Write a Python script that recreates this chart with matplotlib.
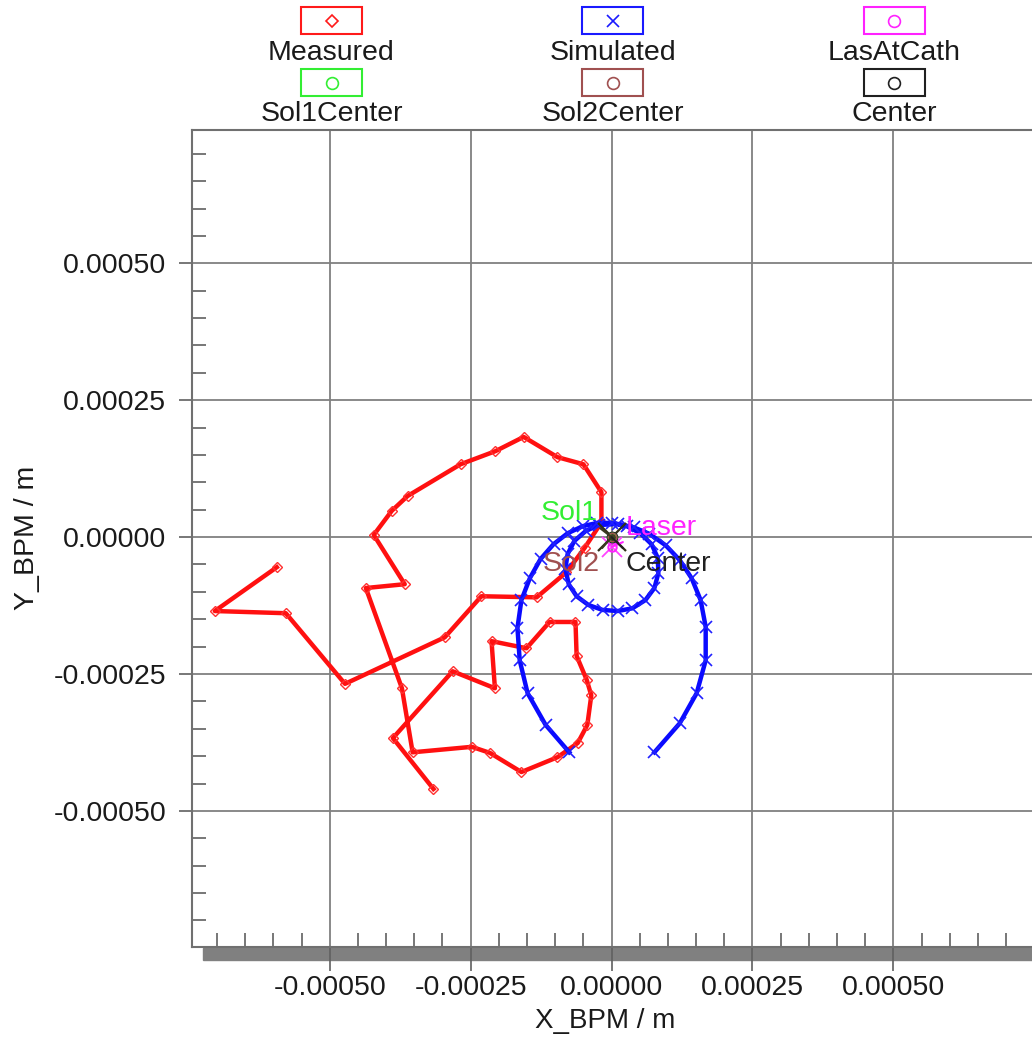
import numpy as np
import matplotlib.pyplot as plt
from matplotlib.lines import Line2D
from matplotlib.patches import Rectangle
from matplotlib.ticker import MultipleLocator, FormatStrFormatter

plt.rcParams['font.family'] = ['Liberation Sans', 'DejaVu Sans']

# beam positions at the BPM, in micrometres
meas_x_um = [-316, -388, -282, -207, -213, -151, -110, -64, -62, -44,
             -36, -43, -60, -96, -160, -216, -248, -353, -372, -436,
             -367, -422, -390, -362, -268, -206, -156, -96, -50, -18,
             -18, -48, -80, -133, -231, -296, -473, -578, -704, -594]
meas_y_um = [-460, -367, -245, -276, -190, -203, -155, -155, -217, -261,
             -289, -343, -376, -402, -429, -394, -383, -393, -276, -93,
             -86, 4, 48, 75, 133, 157, 183, 146, 133, 82,
             27, -20, -64, -110, -108, -183, -268, -139, -135, -55]

sim_x_um = [-75, -117, -149, -163, -167, -160, -145, -126, -103, -78,
            -51, -25,
            0, 27, 51, 71, 82, 83, 76, 60, 37, 11,
            -16, -41, -62, -76, -82, -78, -66, -46, -23,
            11, 39, 67, 96, 121, 142, 158, 167, 167, 151,
            121, 76]
sim_y_um = [-393, -343, -285, -225, -166, -115, -75, -40, -13, 7,
            20, 26,
            26, 20, 7, -13, -38, -66, -93, -115, -130, -135,
            -133, -124, -108, -86, -58, -31, -7, 11, 22,
            24, 18, 6, -15, -42, -75, -115, -164, -225, -285,
            -340, -393]

laser_um = (0, -18)
sol1_um = (0, 0)
sol2_um = (0, 0)
center_um = (0, 0)

legend_labels = ['Measured', 'Simulated', 'LasAtCath',
                 'Sol1Center', 'Sol2Center', 'Center']
legend_colors = ['#ff1a1a', '#1a1aff', '#ff22ff',
                 '#33ee33', '#a05050', '#202020']
legend_markers = ['D', 'x', 'o', 'o', 'o', 'o']

um = 1e-6
W, H = 1032, 1038
fig = plt.figure(figsize=(W / 100, H / 100), dpi=100)
ax = fig.add_axes([191.7 / W, 1 - 946.7 / H, (W - 191.7) / W, (946.7 - 129.7) / H])

ax.plot(np.array(meas_x_um) * um, np.array(meas_y_um) * um, color='#ff1010',
        lw=3.2, marker='D', ms=5.5, mfc='none', mec='#ff3030', mew=1.0,
        solid_joinstyle='round', zorder=3)
ax.plot(np.array(sim_x_um) * um, np.array(sim_y_um) * um, color='#0a0aff',
        lw=3.2, marker='x', ms=8, mec='#2020ff', mew=1.2,
        solid_joinstyle='round', zorder=4)

# laser spot and solenoid centres, with their cross-hairs
lx, ly = laser_um[0] * um, laser_um[1] * um
cx0, cy0 = center_um[0] * um, center_um[1] * um
ax.plot(lx, ly, 'x', ms=15, mec='#ff44ff', mew=1.3, zorder=5)
ax.plot(lx, ly, 'o', ms=6, mfc='none', mec='#ff22ff', mew=1.5, zorder=5)
ax.plot(cx0, cy0, 'x', ms=20, mec='#303018', mew=1.6, zorder=6)
ax.plot(cx0, cy0, 'o', ms=7, mfc='#404020', mec='#202020', mew=1.5, zorder=6)
ax.plot(sol1_um[0] * um, sol1_um[1] * um, 'o', ms=6, mfc='none', mec='#33ee33', mew=1.0, zorder=6)
ax.plot(sol2_um[0] * um, sol2_um[1] * um, 'o', ms=6, mfc='none', mec='#a05050', mew=1.0, zorder=6)

# point labels with leader lines
def tag(text, xy, xytext, color, lcolor, ha, va, rel):
    ax.annotate(text, xy=xy, xytext=xytext, color=color, fontsize=20.5,
                ha=ha, va=va, zorder=7,
                arrowprops=dict(arrowstyle='-', color=lcolor, lw=1.5,
                                shrinkA=0, shrinkB=0, relpos=rel))

tag('Sol1', (sol1_um[0] * um, sol1_um[1] * um), (-25 * um, 31 * um),
    '#33ee33', '#3a3a20', 'right', 'baseline', (1, 0))
tag('Laser', (lx, ly), (25 * um, 4 * um),
    '#ff22ff', '#ff22ff', 'left', 'baseline', (0, 0))
tag('Sol2', (sol2_um[0] * um, sol2_um[1] * um), (-21 * um, -25 * um),
    '#a05050', '#3a3a20', 'right', 'top', (1, 1))
tag('Center', (cx0, cy0), (25 * um, -25 * um),
    '#202020', '#202020', 'left', 'top', (0, 1))

ax.set_xlim(-745 * um, 746 * um)
ax.set_ylim(-748 * um, 744 * um)

ax.xaxis.set_major_locator(MultipleLocator(0.00025))
ax.yaxis.set_major_locator(MultipleLocator(0.00025))
ax.xaxis.set_minor_locator(MultipleLocator(0.00005))
ax.yaxis.set_minor_locator(MultipleLocator(0.00005))
ax.xaxis.set_major_formatter(FormatStrFormatter('%.5f'))
ax.yaxis.set_major_formatter(FormatStrFormatter('%.5f'))

ax.grid(True, which='major', color='#808080', lw=1.3)
ax.set_axisbelow(True)
for side in ['left', 'top', 'bottom']:
    ax.spines[side].set_color('#707070')
    ax.spines[side].set_linewidth(1.5)
ax.spines['right'].set_visible(False)

ax.tick_params(axis='x', which='major', direction='out', length=17, width=1.2,
               color='#606060', pad=3.5, labelsize=20.5, labelcolor='#1a1a1a')
ax.tick_params(axis='y', which='major', direction='out', length=9.5, width=1.2,
               color='#606060', pad=9, labelsize=20.5, labelcolor='#1a1a1a')
ax.tick_params(which='minor', direction='in', length=10, width=1.2, color='#606060')

ax.set_xlabel('X_BPM / m', fontsize=20, color='#1a1a1a', va='top')
ax.xaxis.set_label_coords(0.492, -(1007.5 - 946.7) / (946.7 - 129.7))
ax.set_ylabel('Y_BPM / m', fontsize=20.5, color='#1a1a1a', va='center')
ax.yaxis.set_label_coords(-0.196, 0.5)

# shaded bar under the x axis
fig.patches.append(Rectangle((203 / W, 1 - 960 / H), (W - 203) / W, 12 / H,
                             transform=fig.transFigure, color='#808080',
                             zorder=-1))

# legend boxes above the plot
box_cx = [331.5, 612.6, 894.0]
box_cy = [20.8, 82.5]
text_cy = [53.0, 114.0]
for i, label in enumerate(legend_labels):
    r, c = divmod(i, 3)
    bx, by = box_cx[c], box_cy[r]
    fig.patches.append(Rectangle(((bx - 30.5) / W, 1 - (by + 13.5) / H), 61 / W, 27 / H,
                                 transform=fig.transFigure, fill=False,
                                 ec=legend_colors[i], lw=1.5))
    fig.lines.append(Line2D([bx / W], [1 - by / H], transform=fig.transFigure,
                            marker=legend_markers[i], ms=8.5 if legend_markers[i] != 'D' else 6.5,
                            mfc='none', mec=legend_colors[i], mew=1.2, ls='none'))
    fig.text(bx / W, 1 - text_cy[r] / H, label, ha='center', va='center',
             fontsize=20.5, color='#1a1a1a')

fig.savefig('out.png', dpi=100)
